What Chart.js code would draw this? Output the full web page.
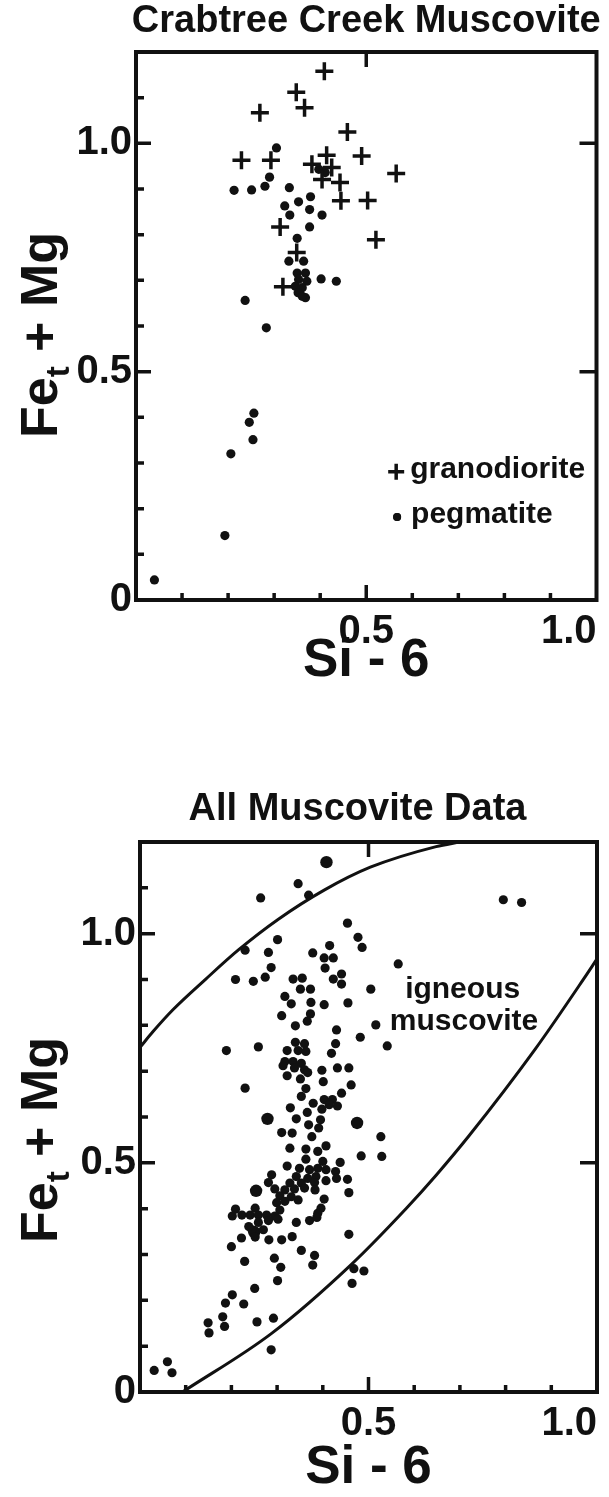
<!DOCTYPE html>
<html>
<head>
<meta charset="utf-8">
<script src="https://cdn.jsdelivr.net/npm/chart.js@4.4.0/dist/chart.umd.min.js"></script>
<style>
  body { margin: 0; background: #fff; }
  .box { position: absolute; left: 0; width: 609px; }
  #top { top: 0; height: 740px; }
  #bottom { top: 740px; height: 757px; }
</style>
</head>
<body>
<div class="box" id="top"><canvas id="crabtree"></canvas></div>
<div class="box" id="bottom"><canvas id="allmusc"></canvas></div>
<script>
/* data: [Si - 6, Fet + Mg] */
const granodiorite = [
  [0.409,1.158],[0.348,1.112],[0.366,1.078],[0.269,1.067],[0.459,1.025],
  [0.229,0.963],[0.293,0.963],[0.414,0.974],[0.490,0.972],[0.382,0.954],
  [0.425,0.947],[0.565,0.934],[0.404,0.921],[0.443,0.914],[0.445,0.874],
  [0.503,0.875],[0.313,0.817],[0.521,0.789],[0.349,0.761],[0.319,0.686]
];
const pegmatite = [
  [0.305,0.990],[0.290,0.926],[0.280,0.906],[0.251,0.898],[0.213,0.897],
  [0.333,0.903],[0.379,0.883],[0.353,0.872],[0.323,0.863],[0.377,0.855],
  [0.334,0.843],[0.404,0.843],[0.377,0.817],[0.350,0.792],[0.397,0.943],
  [0.411,0.936],[0.332,0.742],[0.364,0.742],[0.350,0.716],[0.368,0.716],
  [0.353,0.702],[0.371,0.698],[0.346,0.687],[0.361,0.684],[0.352,0.673],
  [0.368,0.662],[0.361,0.665],[0.402,0.703],[0.435,0.698],[0.237,0.656],
  [0.283,0.596],[0.256,0.409],[0.246,0.389],[0.254,0.351],[0.206,0.320],
  [0.193,0.141],[0.040,0.044]
];

const allDots = [
  [0.346,1.109],[0.264,1.078],[0.369,1.084],[0.795,1.074],[0.835,1.068],
  [0.454,1.023],[0.477,0.992],[0.486,0.970],[0.301,0.987],[0.230,0.964],
  [0.281,0.959],[0.415,0.974],[0.378,0.958],[0.403,0.947],[0.423,0.947],
  [0.405,0.925],[0.287,0.926],[0.565,0.934],[0.209,0.900],[0.248,0.896],
  [0.274,0.905],[0.335,0.901],[0.355,0.903],[0.423,0.901],[0.441,0.912],
  [0.441,0.890],[0.351,0.879],[0.373,0.879],[0.505,0.879],[0.317,0.863],
  [0.331,0.847],[0.374,0.850],[0.403,0.845],[0.455,0.849],[0.310,0.821],
  [0.373,0.825],[0.366,0.809],[0.340,0.799],[0.516,0.801],[0.430,0.790],
  [0.482,0.774],[0.428,0.760],[0.541,0.755],[0.189,0.745],[0.259,0.753],
  [0.340,0.763],[0.360,0.760],[0.322,0.745],[0.346,0.745],[0.363,0.743],
  [0.419,0.739],[0.317,0.721],[0.335,0.721],[0.353,0.717],[0.313,0.712],
  [0.338,0.707],[0.360,0.703],[0.367,0.697],[0.322,0.690],[0.398,0.702],
  [0.432,0.707],[0.457,0.707],[0.351,0.683],[0.401,0.677],[0.462,0.670],
  [0.230,0.663],[0.363,0.662],[0.441,0.652],[0.353,0.645],[0.379,0.630],
  [0.403,0.638],[0.421,0.638],[0.432,0.624],[0.414,0.627],[0.398,0.617],
  [0.329,0.620],[0.366,0.610],[0.342,0.596],[0.395,0.594],[0.369,0.583],
  [0.391,0.576],[0.310,0.566],[0.333,0.565],[0.376,0.557],[0.527,0.557],
  [0.407,0.537],[0.328,0.532],[0.363,0.530],[0.389,0.525],[0.484,0.515],
  [0.529,0.514],[0.363,0.508],[0.400,0.503],[0.438,0.501],[0.322,0.493],
  [0.349,0.488],[0.371,0.485],[0.389,0.488],[0.407,0.485],[0.428,0.481],
  [0.288,0.474],[0.342,0.470],[0.367,0.466],[0.385,0.470],[0.430,0.466],
  [0.454,0.464],[0.281,0.457],[0.328,0.456],[0.353,0.456],[0.382,0.457],
  [0.407,0.461],[0.295,0.443],[0.317,0.441],[0.338,0.443],[0.360,0.445],
  [0.383,0.441],[0.457,0.435],[0.306,0.428],[0.331,0.426],[0.346,0.419],
  [0.403,0.421],[0.299,0.413],[0.317,0.416],[0.396,0.401],[0.209,0.399],
  [0.252,0.401],[0.306,0.397],[0.389,0.390],[0.202,0.384],[0.223,0.386],
  [0.241,0.386],[0.259,0.386],[0.277,0.386],[0.295,0.384],[0.302,0.377],
  [0.259,0.370],[0.281,0.374],[0.371,0.374],[0.387,0.381],[0.342,0.370],
  [0.245,0.354],[0.270,0.354],[0.238,0.361],[0.222,0.336],[0.282,0.332],
  [0.310,0.332],[0.333,0.339],[0.252,0.338],[0.200,0.317],[0.457,0.344],
  [0.353,0.309],[0.382,0.298],[0.294,0.292],[0.229,0.285],[0.308,0.272],
  [0.378,0.277],[0.468,0.269],[0.490,0.264],[0.464,0.237],[0.301,0.243],
  [0.251,0.226],[0.202,0.212],[0.187,0.194],[0.227,0.192],[0.181,0.164],
  [0.149,0.151],[0.185,0.143],[0.151,0.129],[0.256,0.153],[0.292,0.161],
  [0.287,0.092],[0.060,0.066],[0.031,0.047],[0.070,0.042]
];
const allBig = [[0.408,1.156],[0.279,0.596],[0.475,0.587],[0.254,0.439],[0.250,0.349]];

/* boundary curves of the igneous muscovite field */
const upperX = [0, 0.029, 0.072, 0.144, 0.216, 0.302, 0.403, 0.504, 0.648, 0.700];
const upperY = [0.752, 0.787, 0.834, 0.901, 0.965, 1.031, 1.095, 1.145, 1.190, 1.200];
const lowerX = [0.093, 0.288, 0.461, 0.583, 0.648, 0.720, 0.864, 0.972, 1.000];
const lowerY = [0, 0.128, 0.277, 0.401, 0.473, 0.559, 0.747, 0.903, 0.945];

const minorTicks = [0.1, 0.2, 0.3, 0.4, 0.6, 0.7, 0.8, 0.9, 1.1];
const majorTicks = [0.5, 1.0];

const ink = '#111';
const fam = '"Liberation Sans", Arial, sans-serif';
Chart.defaults.font.family = fam;
Chart.defaults.color = ink;

const pts = a => a.map(p => ({x: p[0], y: p[1]}));
const curve = (xs, ys) => xs.map((v, i) => ({x: v, y: ys[i]}));

/* frame, inward ticks, titles and notes */
const decor = {
  id: 'decor',
  afterDatasetsDraw(chart, args, o) {
    const {ctx, chartArea: a, scales: {x, y}} = chart;
    ctx.save();
    ctx.strokeStyle = ink;
    ctx.fillStyle = ink;
    ctx.lineWidth = 4;
    ctx.strokeRect(a.left, a.top, a.right - a.left, a.bottom - a.top);

    ctx.lineWidth = 3.5;
    ctx.beginPath();
    const tick = (x1, y1, x2, y2) => { ctx.moveTo(x1, y1); ctx.lineTo(x2, y2); };
    minorTicks.forEach(v => {
      if (v < 1) tick(x.getPixelForValue(v), a.bottom, x.getPixelForValue(v), a.bottom - 7);
      tick(a.left, y.getPixelForValue(v), a.left + 8, y.getPixelForValue(v));
    });
    majorTicks.forEach(v => {
      const px = x.getPixelForValue(v), py = y.getPixelForValue(v);
      if (v < 1) {
        tick(px, a.bottom, px, a.bottom - 15);
        tick(px, a.top, px, a.top + 15);
      }
      tick(a.left, py, a.left + 15, py);
      tick(a.right, py, a.right - 17, py);
    });
    ctx.stroke();

    // chart title
    ctx.font = 'bold 38px ' + fam;
    ctx.textAlign = 'center';
    ctx.textBaseline = 'middle';
    ctx.fillText(o.title, (a.left + a.right) / 2 + o.titleDx, a.top - o.titleGap);

    // y axis title with subscript t
    ctx.save();
    ctx.translate(o.yTitleX, (a.top + a.bottom) / 2 + o.yTitleDy);
    ctx.rotate(-Math.PI / 2);
    ctx.textAlign = 'left';
    ctx.textBaseline = 'alphabetic';
    const big = 'bold 52px ' + fam, small = 'bold 33px ' + fam;
    ctx.font = big;
    const w1 = ctx.measureText('Fe').width, w3 = ctx.measureText(' + Mg').width;
    ctx.font = small;
    const w2 = ctx.measureText('t').width;
    let sx = -(w1 + w2 + w3) / 2;
    ctx.font = big; ctx.fillText('Fe', sx, 19); sx += w1;
    ctx.font = small; ctx.fillText('t', sx, 31); sx += w2;
    ctx.font = big; ctx.fillText(' + Mg', sx, 19);
    ctx.restore();

    // notes inside the plot
    ctx.font = 'bold 30px ' + fam;
    ctx.textBaseline = 'middle';
    if (o.legend) {
      const ds = chart.data.datasets;
      o.legend.forEach((row, i) => {
        const px = x.getPixelForValue(row[0]), py = y.getPixelForValue(row[1]);
        const d = ds[i];
        Chart.helpers.drawPoint(ctx, {
          pointStyle: d.pointStyle, radius: i === 0 ? 8 : 4,
          borderWidth: i === 0 ? 3 : 0, rotation: 0
        }, px, py);
        if (i !== 0) ctx.fill();
        ctx.textAlign = 'left';
        ctx.fillText(d.label, px + 14, py - 2);
      });
    }
    if (o.notes) {
      ctx.textAlign = 'center';
      o.notes.forEach(n => {
        ctx.fillText(n[2], x.getPixelForValue(n[0]), y.getPixelForValue(n[1]));
      });
    }
    ctx.restore();
  }
};

function makeChart(id, datasets, o) {
  return new Chart(document.getElementById(id), {
    type: 'scatter',
    data: { datasets: datasets },
    options: {
      responsive: true,
      maintainAspectRatio: false,
      animation: false,
      events: [],
      layout: { padding: { top: o.top, right: o.right, left: 0, bottom: 0 } },
      plugins: { legend: { display: false }, tooltip: { enabled: false }, decor: o },
      scales: {
        x: {
          type: 'linear', min: 0, max: 1,
          afterFit: s => { s.height = o.xh; },
          grid: { display: false, drawTicks: false }, border: { display: false },
          ticks: {
            stepSize: 0.5, includeBounds: false, align: 'inner', maxRotation: 0,
            padding: o.xpad, color: ink,
            font: { size: 40, weight: 'bold', lineHeight: 1 },
            callback: v => v === 0 ? '' : v.toFixed(1)
          },
          title: {
            display: true, text: 'Si - 6', color: ink,
            font: { size: 53, weight: 'bold', lineHeight: 1 },
            padding: { top: 0, bottom: o.xtb }
          }
        },
        y: {
          type: 'linear', min: 0, max: 1.2,
          afterFit: s => { s.width = o.yw; },
          grid: { display: false, drawTicks: false }, border: { display: false },
          ticks: {
            stepSize: 0.5, includeBounds: false, padding: 4, color: ink,
            font: { size: 40, weight: 'bold', lineHeight: 1 },
            callback: v => v === 0 ? '0' : v.toFixed(1)
          }
        }
      }
    },
    plugins: [decor]
  });
}

makeChart('crabtree', [
  { label: 'granodiorite', data: pts(granodiorite), pointStyle: 'cross',
    pointRadius: 9, borderWidth: 3.5, borderColor: ink, backgroundColor: ink },
  { label: 'pegmatite', data: pts(pegmatite), pointStyle: 'circle',
    pointRadius: 4.6, borderWidth: 0, backgroundColor: ink }
], {
  top: 52, right: 8, yw: 136, xh: 140, xpad: 12, xtb: 52,
  title: 'Crabtree Creek Muscovite', titleDx: 0, titleGap: 30,
  yTitleX: 38, yTitleDy: 9,
  legend: [[0.565, 0.281], [0.567, 0.182]]
});

makeChart('allmusc', [
  { label: 'upper bound', data: curve(upperX, upperY), showLine: true, pointRadius: 0,
    borderColor: ink, borderWidth: 3, cubicInterpolationMode: 'monotone' },
  { label: 'lower bound', data: curve(lowerX, lowerY), showLine: true, pointRadius: 0,
    borderColor: ink, borderWidth: 3, cubicInterpolationMode: 'monotone' },
  { label: 'muscovite', data: pts(allDots), pointStyle: 'circle',
    pointRadius: 4.6, borderWidth: 0, backgroundColor: ink },
  { label: 'muscovite (large)', data: pts(allBig), pointStyle: 'circle',
    pointRadius: 6.2, borderWidth: 0, backgroundColor: ink }
], {
  top: 102, right: 6, yw: 140, xh: 105, xpad: 12, xtb: 2,
  title: 'All Muscovite Data', titleDx: -11, titleGap: 32,
  yTitleX: 38, yTitleDy: 23,
  notes: [[0.706, 0.878, 'igneous'], [0.709, 0.808, 'muscovite']]
});
</script>
</body>
</html>
